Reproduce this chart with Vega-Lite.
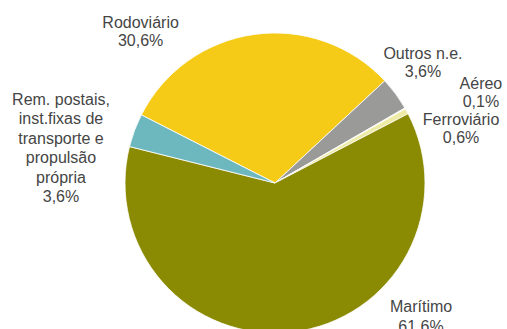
{
  "$schema": "https://vega.github.io/schema/vega-lite/v6.json",
  "width": 464,
  "height": 292,
  "autosize": "none",
  "padding": {"left": 43, "top": 37, "right": 0, "bottom": 0},
  "background": "white",
  "config": {"view": {"stroke": null}, "text": {"font": "Liberation Sans", "fontSize": 16, "lineHeight": 18, "fill": "#454545", "lineBreak": "\n", "align": "center", "baseline": "middle"}},
  "data": {"values": [
    {"modo": "Rodoviário", "valor": 30.6, "rotulo": "Rodoviário\n30,6%"},
    {"modo": "Outros n.e.", "valor": 3.6, "rotulo": "Outros n.e.\n3,6%"},
    {"modo": "Aéreo", "valor": 0.1, "rotulo": "Aéreo\n0,1%"},
    {"modo": "Ferroviário", "valor": 0.6, "rotulo": "Ferroviário\n0,6%"},
    {"modo": "Marítimo", "valor": 61.6, "rotulo": "Marítimo\n61,6%"},
    {"modo": "Rem. postais", "valor": 3.6, "rotulo": "Rem. postais,\ninst.fixas de\ntransporte e\npropulsão\nprópria\n3,6%"}
  ]},
  "transform": [{"window": [{"op": "row_number", "as": "ordem"}]}],
  "encoding": {
    "theta": {"field": "valor", "type": "quantitative", "stack": true, "scale": {"range": [-1.0996, 5.1836]}},
    "order": {"field": "ordem", "type": "quantitative"}
  },
  "layer": [
    {
      "mark": {"type": "arc", "outerRadius": 150, "stroke": "#ffffff", "strokeWidth": 0.8},
      "encoding": {
        "color": {"field": "modo", "type": "nominal", "legend": null,
          "scale": {"domain": ["Rodoviário", "Outros n.e.", "Aéreo", "Ferroviário", "Marítimo", "Rem. postais"],
                    "range": ["#F5CB17", "#9A9A98", "#E4E4D8", "#EEEBA6", "#8B8A03", "#6DB7BE"]}}
      }
    },
    {
      "mark": {"type": "text", "radius": 160, "dx": -112.2, "dy": -1.6},
      "encoding": {"detail": {"field": "modo"}, "text": {"condition": {"test": "datum.modo === 'Rodoviário'", "field": "rotulo"}, "value": ""}}
    },
    {
      "mark": {"type": "text", "radius": 170, "dx": 11.3, "dy": -27.8},
      "encoding": {"detail": {"field": "modo"}, "text": {"condition": {"test": "datum.modo === 'Outros n.e.'", "field": "rotulo"}, "value": ""}}
    },
    {
      "mark": {"type": "text", "radius": 200, "dx": 32.4, "dy": 0.4},
      "encoding": {"detail": {"field": "modo"}, "text": {"condition": {"test": "datum.modo === 'Aéreo'", "field": "rotulo"}, "value": ""}}
    },
    {
      "mark": {"type": "text", "radius": 190, "dx": 19.2, "dy": 28},
      "encoding": {"detail": {"field": "modo"}, "text": {"condition": {"test": "datum.modo === 'Ferroviário'", "field": "rotulo"}, "value": ""}}
    },
    {
      "mark": {"type": "text", "radius": 150, "dx": 128.5, "dy": -24.5, "lineHeight": 20},
      "encoding": {"detail": {"field": "modo"}, "text": {"condition": {"test": "datum.modo === 'Marítimo'", "field": "rotulo"}, "value": ""}}
    },
    {
      "mark": {"type": "text", "radius": 200, "dx": -26.7, "dy": -13, "lineHeight": 19.5},
      "encoding": {"detail": {"field": "modo"}, "text": {"condition": {"test": "datum.modo === 'Rem. postais'", "field": "rotulo"}, "value": ""}}
    }
  ]
}
